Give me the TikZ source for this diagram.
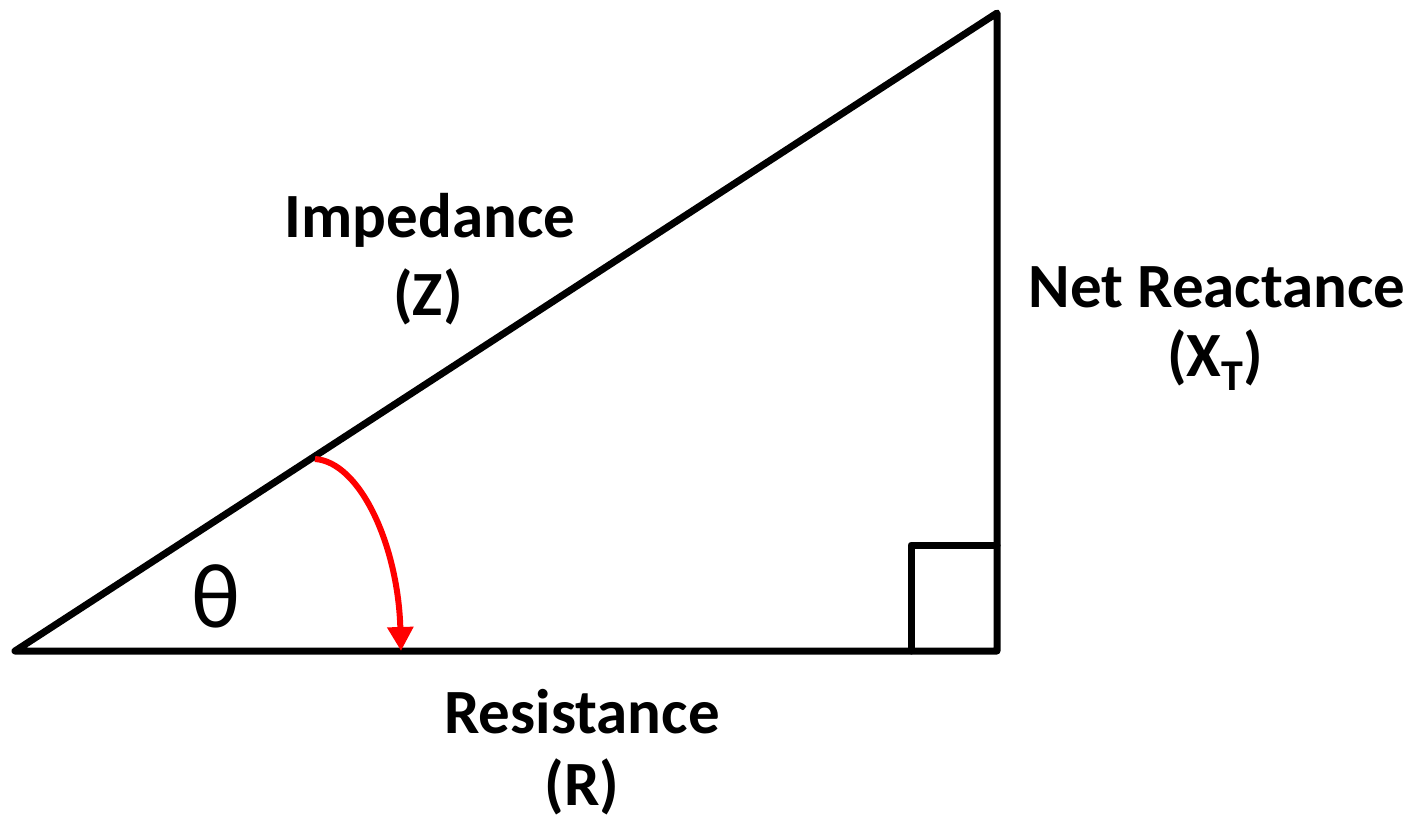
\documentclass[tikz,border=0pt]{standalone}
\usepackage{fontspec}
\setmainfont{Carlito}
\usetikzlibrary{arrows.meta}
\tikzset{
  edge/.style={line width=3.5pt, line join=round, line cap=round, black},
  lbl/.style={font=\bfseries\fontsize{31.5}{31.5}\selectfont, inner sep=0pt, anchor=center},
  anglearrow/.style={line width=3pt, red, -{Triangle[length=12pt,width=12.5pt]}}
}
\begin{document}
\begin{tikzpicture}[x=0.5pt,y=-0.5pt]
\useasboundingbox (0,0) rectangle (1417,818);
\coordinate (A) at (15,651);
\coordinate (B) at (997,651);
\coordinate (C) at (997,13);
\coordinate (S1) at (911,651);
\coordinate (S2) at (911,545);
\coordinate (S3) at (997,545);
\coordinate (P) at (315,459);
\coordinate (Q) at (401,651);
\draw[edge] (A) -- (B) -- (C) -- cycle;
\draw[edge] (S1) -- (S2) -- (S3);
\draw[anglearrow] (P) .. controls (360,462) and (398,545) .. (Q);
\node[lbl] (imp) at (430,220) {Impedance};
\node[lbl] (z) at (428,297) {(Z)};
\node[lbl] (net) at (1217,287) {Net Reactance};
\node[lbl] (xt) at (1215,360) {(X\raisebox{-7pt}{\fontsize{22}{22}\selectfont T})};
\node[lbl] (res) at (582,712) {Resistance};
\node[lbl] (r) at (582,787) {(R)};
\node[font=\fontsize{46}{46}\selectfont, inner sep=0pt] (theta) at (216,596) {θ};
\end{tikzpicture}
\end{document}
